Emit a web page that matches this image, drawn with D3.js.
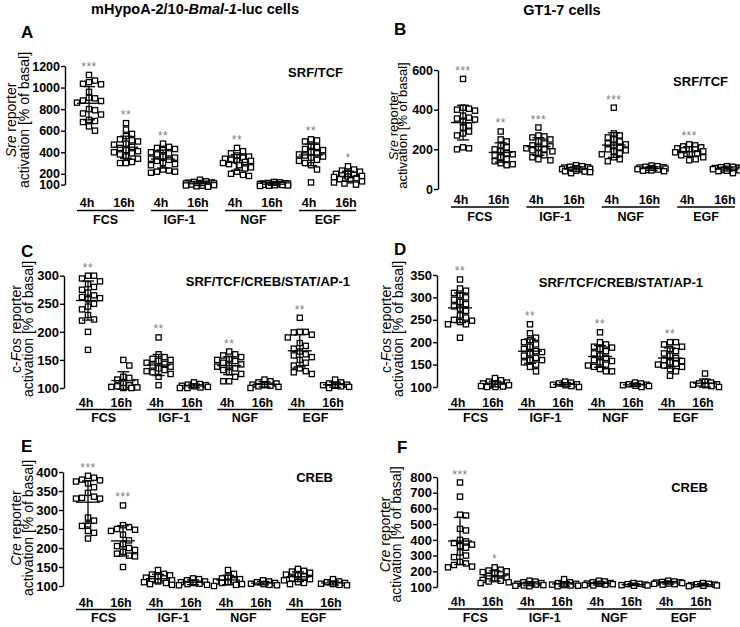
<!DOCTYPE html>
<html><head><meta charset="utf-8">
<script src="https://cdn.jsdelivr.net/npm/d3@7"></script>
<style>
body{margin:0;background:#fff}
svg{display:block}
text{font-family:"Liberation Sans",Arial,Helvetica,sans-serif}
</style>
</head><body>
<svg id="c" width="740" height="627"></svg>
<script>
// ---------------- DATA ----------------
const groups = ["FCS", "IGF-1", "NGF", "EGF"];
const times = ["4h", "16h"];

// Panel A: mHypoA-2/10 Sre reporter (order: FCS 4h, FCS 16h, IGF 4h, IGF 16h, NGF 4h, NGF 16h, EGF 4h, EGF 16h)
const A_values = [
  [1117,1065,1050,1035,1030,960,905,900,880,875,860,800,790,760,750,700,690,680,640,600],
  [670,610,570,550,520,510,500,480,470,450,440,420,410,400,390,380,360,340,310,300,300],
  [480,450,440,430,420,400,390,380,360,350,340,330,320,300,290,280,240,230,220,220,210],
  [145,130,125,120,118,115,112,110,108,105,103,100,98,95,92,90,85,80],
  [440,410,390,370,360,350,340,330,320,320,310,300,290,280,260,250,220,200,190,180],
  [125,120,115,112,110,108,106,105,103,100,98,96,94,92,90,88],
  [520,510,500,460,450,430,420,400,390,380,370,360,350,330,320,300,280,240,120],
  [270,240,230,220,210,200,190,185,180,175,170,160,150,140,130,120,110,100]
];
const A_stars = ["***","**","**","","**","","**","*"];
const A_ticks = [100,200,400,600,800,1000,1200];

// Panel B: GT1-7 Sre reporter
const B_values = [
  [555,410,405,400,395,370,360,355,350,340,320,310,290,280,270,210,205,200],
  [290,250,240,220,210,200,190,180,175,170,160,150,140,130,125,120],
  [310,270,265,260,250,240,230,220,215,210,205,200,195,190,180,170,160,150,145],
  [120,115,112,110,108,105,102,100,98,95,92,90,88,85,80],
  [410,280,270,260,250,240,230,225,220,210,200,195,190,180,175,160,150,140],
  [118,115,112,110,108,105,103,100,98,96,94,92,90],
  [225,220,215,210,205,200,200,195,190,185,180,175,170,160,150,145],
  [115,112,110,108,106,104,102,100,98,96,94,92,90,80]
];
const B_stars = ["***","**","***","","***","","***",""];
const B_ticks = [0,200,400,600];

// Panel C: mHypoA-2/10 c-Fos reporter
const C_values = [
  [300,300,295,290,285,280,275,270,265,262,260,258,250,245,240,230,222,220,200,168],
  [150,140,120,118,115,110,108,105,103,102,101,100,100],
  [190,160,155,152,150,148,145,143,140,138,135,132,130,128,125,120,105],
  [110,107,106,105,104,103,102,101,100,100],
  [165,160,158,155,152,150,148,145,142,140,138,135,132,128,125,120,112,112],
  [115,112,110,108,106,105,104,103,102,100],
  [225,200,200,199,195,190,180,175,170,165,160,158,155,150,145,140,135,130,128,125],
  [115,110,108,106,105,104,103,102,100]
];
const C_stars = ["**","","**","","**","","**",""];
const C_ticks = [100,150,200,250,300];

// Panel D: GT1-7 c-Fos reporter
const D_values = [
  [340,320,315,310,305,300,295,290,285,280,275,270,260,255,250,248,245,240,240,210],
  [120,115,112,110,108,106,105,104,103,102,101,100,100],
  [240,220,210,205,200,195,190,185,180,178,175,170,165,160,160,155,150,145,135],
  [112,110,108,106,105,104,102,100],
  [222,200,195,190,188,185,180,175,170,165,160,158,155,150,148,145,140,135,135],
  [110,108,106,105,104,103,102,100],
  [200,200,195,190,185,180,175,170,165,160,158,155,152,150,148,145,140,135,125],
  [130,112,110,108,106,105,104,102,100]
];
const D_stars = ["**","","**","","**","","**",""];
const D_ticks = [100,150,200,250,300,350];

// Panel E: mHypoA-2/10 Cre reporter
const E_values = [
  [390,385,380,378,375,370,360,345,335,332,330,330,280,272,262,258,245,240,225],
  [312,260,255,250,248,245,235,220,210,205,200,195,190,185,180,178,150],
  [142,132,130,128,125,122,120,118,115,112,110,108,105,103],
  [120,118,115,112,110,108,106,105,103,102],
  [142,132,125,120,118,115,112,110,108,105,103,100],
  [115,112,110,108,106,105,103,102],
  [145,140,138,135,130,128,125,120,118,115,110,108,105],
  [118,112,110,108,106,105,103,102]
];
const E_stars = ["***","***","","","","","",""];
const E_ticks = [100,150,200,250,300,350,400];

// Panel F: GT1-7 Cre reporter
const F_values = [
  [765,675,560,555,470,460,400,390,380,370,360,350,320,300,290,260,250,240,230,225],
  [225,210,205,200,195,190,180,170,160,150,145,140,135,130,125],
  [140,135,130,125,120,118,115,112,110,108,105],
  [150,130,125,120,115,112,110,108,105],
  [140,135,130,125,122,120,118,115,112,110],
  [125,120,118,115,112,110,108],
  [140,135,132,130,128,125,122,120,118,115],
  [125,120,118,115,112,110,108,105]
];
const F_stars = ["***","*","","","","","",""];
const F_ticks = [100,200,300,400,500,600,700,800];

const colTitles = [["mHypoA-2/10-", false], ["Bmal-1", true], ["-luc cells", false]];
const colTitle2 = "GT1-7 cells";
const sreLabel = [["Sre", true], [" reporter", false]];
const fosLabel = [["c-", false], ["Fos", true], [" reporter", false]];
const creLabel = [["Cre", true], [" reporter", false]];
const yLabel2 = "activation [% of basal]";

// ---------------- LAYOUT ----------------
const panels = [
  {id:"A", values:A_values, stars:A_stars, ticks:A_ticks, domain:[100,1200], ylab:sreLabel, note:"SRF/TCF",
   L:{ax:65, yTop:66, yBot:184.6, x0:89, step:37, lab:207, ul:210.5, grp:223.5, letter:[21,38], note:[343,77], yl:[16,29], ylc:120, fs:14, tfs:12.5}},
  {id:"B", values:B_values, stars:B_stars, ticks:B_ticks, domain:[0,600], ylab:sreLabel, note:"SRF/TCF",
   L:{ax:438, yTop:70, yBot:189, x0:463, step:37.7, lab:204, ul:207, grp:221, letter:[394,35], note:[728,86], yl:[398,407], ylc:125.5, fs:13, tfs:12.5}},
  {id:"C", values:C_values, stars:C_stars, ticks:C_ticks, domain:[100,300], ylab:fosLabel, note:"SRF/TCF/CREB/STAT/AP-1",
   L:{ax:64, yTop:275.7, yBot:388, x0:88, step:35.3, lab:407, ul:409.5, grp:422, letter:[21,257], note:[350,286], yl:[21,33], ylc:329, fs:14, tfs:13}},
  {id:"D", values:D_values, stars:D_stars, ticks:D_ticks, domain:[100,350], ylab:fosLabel, note:"SRF/TCF/CREB/STAT/AP-1",
   L:{ax:437, yTop:275, yBot:387, x0:460, step:35, lab:407, ul:409.5, grp:422, letter:[394,255], note:[703,287], yl:[391,403], ylc:329, fs:14, tfs:13}},
  {id:"E", values:E_values, stars:E_stars, ticks:E_ticks, domain:[100,400], ylab:creLabel, note:"CREB",
   L:{ax:63, yTop:472, yBot:586, x0:88, step:35, lab:607, ul:609.5, grp:622, letter:[21,452], note:[333,482], yl:[21,33], ylc:528, fs:14, tfs:13}},
  {id:"F", values:F_values, stars:F_stars, ticks:F_ticks, domain:[100,800], ylab:creLabel, note:"CREB",
   L:{ax:437, yTop:477, yBot:587, x0:460, step:34.7, lab:606, ul:609, grp:622, letter:[397,453], note:[708,492], yl:[390,401], ylc:534.5, fs:14, tfs:13}}
];

const svg = d3.select("#c");

// Column titles
const t1 = svg.append("text").attr("x",195).attr("y",14).attr("text-anchor","middle")
  .attr("font-size",14.5).attr("font-weight","bold");
colTitles.forEach(([s,it]) => t1.append("tspan").text(s).attr("font-style", it ? "italic" : "normal"));
svg.append("text").attr("x",562).attr("y",15).attr("text-anchor","middle")
  .attr("font-size",14.5).attr("font-weight","bold").text(colTitle2);

const keys = groups.flatMap(g => times.map(t => g + "|" + t));
const MS = 5.2;   // marker side

// beeswarm layout limited to a maximum half-width; overlaps minimised when crowded
function swarm(vals, y) {
  const pts = vals.map(v => ({v, y: y(v)})).sort((a,b) => a.y - b.y);
  const placed = [];
  const D = 5.8, W = 14;
  const cands = [0];
  for (let o = 0.5; o <= W; o += 0.5) { cands.push(o, -o); }
  for (const p of pts) {
    let best = 0, bestPen = Infinity;
    for (const o of cands) {
      let pen = 0;
      for (const q of placed) {
        const dy = D - Math.abs(q.y - p.y), dx = D - Math.abs(q.dx - o);
        if (dy > 0 && dx > 0) pen += dy * dx;
      }
      if (pen < bestPen - 1e-9) { bestPen = pen; best = o; if (pen === 0) break; }
    }
    p.dx = best;
    placed.push(p);
  }
  return placed;
}

panels.forEach(p => {
  const L = p.L;
  const y = d3.scaleLinear().domain(p.domain).range([L.yBot, L.yTop]);
  const x = d3.scalePoint().domain(keys).range([L.x0, L.x0 + 7*L.step]);
  const g = svg.append("g");

  // panel letter
  g.append("text").attr("x", L.letter[0]).attr("y", L.letter[1])
    .attr("font-size", 17).attr("font-weight","bold").text(p.id);

  // y axis
  const ax = g.append("g").attr("transform", `translate(${L.ax},0)`)
    .call(d3.axisLeft(y).tickValues(p.ticks).tickFormat(d3.format("d")).tickSize(4).tickPadding(1).tickSizeOuter(0));
  ax.select(".domain").attr("stroke","#000").attr("stroke-width",1.4);
  ax.selectAll(".tick line").attr("stroke","#000").attr("stroke-width",1.4);
  ax.selectAll(".tick text").attr("font-size",L.tfs).attr("font-weight","bold").attr("fill","#000")
    .attr("font-family",'"Liberation Sans",Arial,sans-serif');

  // y axis title (two lines)
  const yt1 = g.append("text").attr("transform", `translate(${L.yl[0]},${L.ylc}) rotate(-90)`)
    .attr("text-anchor","middle").attr("font-size",L.fs);
  p.ylab.forEach(([s,it]) => yt1.append("tspan").text(s).attr("font-style", it ? "italic" : "normal"));
  g.append("text").attr("transform", `translate(${L.yl[1]},${L.ylc}) rotate(-90)`)
    .attr("text-anchor","middle").attr("font-size",L.fs).text(yLabel2);

  // annotation
  g.append("text").attr("x", L.note[0]).attr("y", L.note[1]).attr("text-anchor","end")
    .attr("font-size",13).attr("font-weight","bold").text(p.note);

  // points + mean/SD
  keys.forEach((k, i) => {
    const vals = p.values[i];
    const cx = x(k);
    const pts = swarm(vals, y);
    g.append("g").selectAll("rect").data(pts).join("rect")
      .attr("x", d => cx + d.dx - MS/2).attr("y", d => d.y - MS/2)
      .attr("width", MS).attr("height", MS)
      .attr("fill","#fff").attr("stroke","#000").attr("stroke-width",1.3);
    const m = d3.mean(vals), sd = d3.deviation(vals);
    const lg = g.append("g").attr("stroke","#000").attr("stroke-width",1.3);
    lg.append("line").attr("x1",cx).attr("x2",cx).attr("y1",y(m-sd)).attr("y2",y(m+sd));
    lg.append("line").attr("x1",cx-6).attr("x2",cx+6).attr("y1",y(m-sd)).attr("y2",y(m-sd));
    lg.append("line").attr("x1",cx-6).attr("x2",cx+6).attr("y1",y(m+sd)).attr("y2",y(m+sd));
    lg.append("line").attr("x1",cx-12).attr("x2",cx+12).attr("y1",y(m)).attr("y2",y(m));
    if (p.stars[i]) {
      g.append("text").attr("x", cx).attr("y", y(d3.max(vals)) - 4).attr("text-anchor","middle")
        .attr("font-size",12).attr("fill","#808080").attr("letter-spacing",0.5).text(p.stars[i]);
    }
    // time labels
    g.append("text").attr("x", cx - 2).attr("y", L.lab).attr("text-anchor","middle")
      .attr("font-size",12.5).attr("font-weight","bold").text(k.split("|")[1]);
  });

  // group underline and labels
  groups.forEach((gr, j) => {
    const xa = x(gr + "|" + times[0]), xb = x(gr + "|" + times[1]);
    g.append("line").attr("x1", xa - 12).attr("x2", xb + 8).attr("y1", L.ul).attr("y2", L.ul)
      .attr("stroke","#000").attr("stroke-width",1.3);
    g.append("text").attr("x", (xa + xb)/2 - 2).attr("y", L.grp).attr("text-anchor","middle")
      .attr("font-size",12.5).attr("font-weight","bold").text(gr);
  });
});
</script>
</body></html>
